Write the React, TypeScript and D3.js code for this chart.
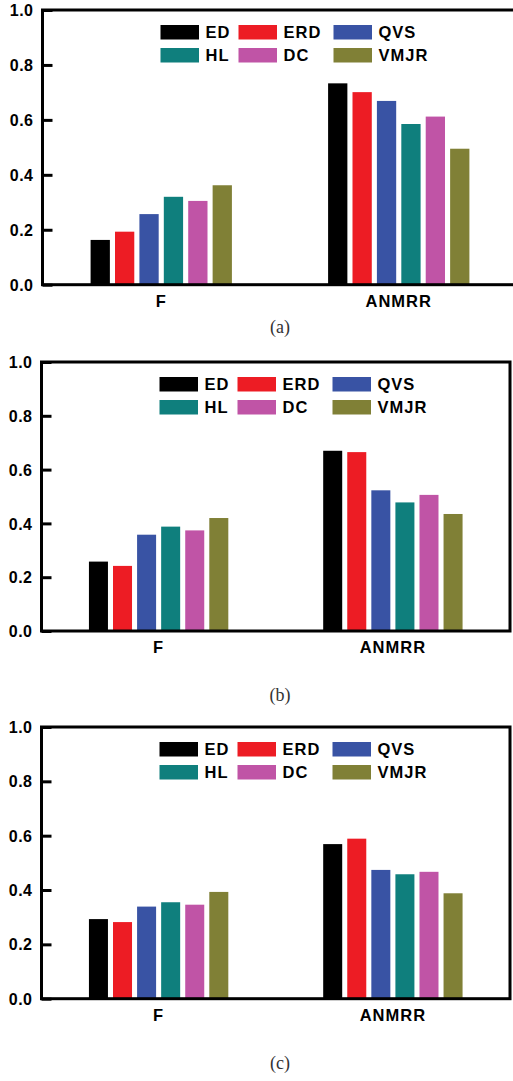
import React, { useEffect, useRef } from 'react';
import * as d3 from 'd3';

const categories = ['F', 'ANMRR'];
const methods = ['ED', 'ERD', 'QVS', 'HL', 'DC', 'VMJR'];
const colors = ['#000000', '#ed1c24', '#3953a4', '#0f7f7d', '#c054a6', '#808036'];
const yTicks = [0, 0.2, 0.4, 0.6, 0.8, 1.0];

// (a)
const fA = [0.163, 0.193, 0.257, 0.32, 0.305, 0.362];
const anmrrA = [0.733, 0.701, 0.669, 0.585, 0.612, 0.495];
// (b)
const fB = [0.258, 0.242, 0.358, 0.388, 0.374, 0.42];
const anmrrB = [0.67, 0.665, 0.523, 0.478, 0.506, 0.435];
// (c)
const fC = [0.293, 0.282, 0.339, 0.355, 0.346, 0.393];
const anmrrC = [0.569, 0.589, 0.474, 0.458, 0.467, 0.388];

const captions = ['(a)', '(b)', '(c)'];

const panels = [
  { values: [fA, anmrrA], top: 10, bottom: 284.7, left: 42.5, right: 517.5, caption: 333 },
  { values: [fB, anmrrB], top: 362, bottom: 631, left: 41.5, right: 510, caption: 701 },
  { values: [fC, anmrrC], top: 727, bottom: 998.7, left: 41.5, right: 510, caption: 1069 },
];

const sans = '"Liberation Sans", Arial, sans-serif';

const App = () => {
  const svgRef = useRef<SVGSVGElement>(null);

  useEffect(() => {
    const svg = d3.select(svgRef.current);
    svg.selectAll('*').remove();

    panels.forEach((p, pi) => {
      const g = svg.append('g');

      const y = d3.scaleLinear().domain([0, 1]).range([p.bottom, p.top]);
      const x0 = d3.scaleBand().domain(categories).range([p.left, p.right]).padding(0);
      const groupW = x0.bandwidth() * 0.595;
      const x1 = d3.scaleBand<number>()
        .domain(d3.range(methods.length))
        .range([0, groupW])
        .paddingInner(0.21)
        .paddingOuter(0);

      // Bars
      g.append('g')
        .selectAll('g')
        .data(categories)
        .enter()
        .append('g')
        .attr('transform', d => `translate(${x0(d)! + (x0.bandwidth() - groupW) / 2},0)`)
        .selectAll('rect')
        .data((d, ci) => p.values[ci].map((value, index) => ({ value, index })))
        .enter()
        .append('rect')
        .attr('x', d => x1(d.index)!)
        .attr('y', d => y(d.value))
        .attr('width', x1.bandwidth())
        .attr('height', d => p.bottom - y(d.value))
        .attr('fill', d => colors[d.index]);

      // Frame
      g.append('rect')
        .attr('x', p.left)
        .attr('y', p.top)
        .attr('width', p.right - p.left)
        .attr('height', p.bottom - p.top)
        .attr('fill', 'none')
        .attr('stroke', '#000')
        .attr('stroke-width', 3);

      // Y axis (inward ticks)
      const yAxis = g.append('g')
        .attr('transform', `translate(${p.left},0)`)
        .call(
          d3.axisRight(y)
            .tickValues(yTicks)
            .tickSize(10)
            .tickFormat(d3.format('.1f'))
        );
      yAxis.select('.domain').remove();
      yAxis.selectAll('.tick line').attr('stroke', '#000').attr('stroke-width', 3);
      yAxis.selectAll('.tick text')
        .attr('x', -9)
        .attr('dy', '0.35em')
        .attr('text-anchor', 'end')
        .attr('font-family', sans)
        .attr('font-weight', 'bold')
        .attr('font-size', 16)
        .attr('letter-spacing', 0.5)
        .attr('fill', '#000');

      // Category labels
      g.append('g')
        .selectAll('text')
        .data(categories)
        .enter()
        .append('text')
        .attr('x', d => x0(d)! + x0.bandwidth() / 2)
        .attr('y', p.bottom + 22)
        .attr('text-anchor', 'middle')
        .attr('font-family', sans)
        .attr('font-weight', 'bold')
        .attr('font-size', 16.5)
        .attr('letter-spacing', 1)
        .text(d => d);

      // Legend
      const colX = [p.left + 118, p.left + 196, p.left + 291];
      const leg = g.append('g')
        .selectAll('g')
        .data(methods)
        .enter()
        .append('g')
        .attr('transform', (d, i) => `translate(${colX[i % 3]},${p.top + 15 + Math.floor(i / 3) * 23})`);
      leg.append('rect')
        .attr('width', 38.5)
        .attr('height', 14.5)
        .attr('fill', (d, i) => colors[i]);
      leg.append('text')
        .attr('x', 45)
        .attr('y', 13)
        .attr('font-family', sans)
        .attr('font-weight', 'bold')
        .attr('font-size', 16.5)
        .attr('letter-spacing', 1)
        .text(d => d);

      // Caption
      g.append('text')
        .attr('x', 280)
        .attr('y', p.caption)
        .attr('text-anchor', 'middle')
        .attr('font-family', '"Liberation Serif", "Times New Roman", serif')
        .attr('font-size', 18)
        .attr('fill', '#333')
        .text(captions[pi]);
    });
  }, []);

  return (
    <svg
      ref={svgRef}
      width={513}
      height={1081}
      style={{ position: 'absolute', left: 0, top: 0, background: '#fff' }}
    ></svg>
  );
};

export default App;
